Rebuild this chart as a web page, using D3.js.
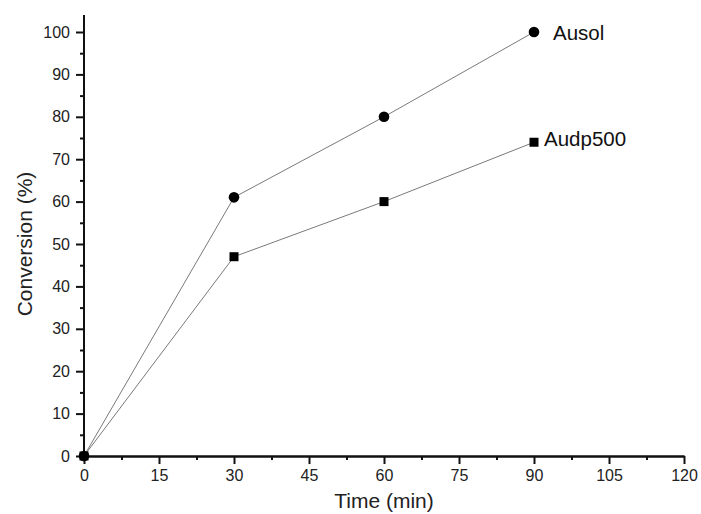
<!DOCTYPE html>
<html>
<head>
<meta charset="utf-8">
<script src="https://cdn.jsdelivr.net/npm/d3@7"></script>
<style>
  html, body { margin: 0; padding: 0; background: #fff; }
  svg { display: block; font-family: "Liberation Sans", Arial, sans-serif; }
</style>
</head>
<body>
<svg id="chart" width="701" height="514"></svg>
<script>
// Reaction time (min) and conversion (%) for each catalyst
const times = [0, 30, 60, 90];
const ausol = [0, 61, 80, 100];
const audp500 = [0, 47, 60, 74];
const seriesNames = ["Ausol", "Audp500"];
const xTicks = [0, 15, 30, 45, 60, 75, 90, 105, 120];
const yTicks = [0, 10, 20, 30, 40, 50, 60, 70, 80, 90, 100];

const svg = d3.select("#chart");

const x = d3.scaleLinear().domain([0, 120]).range([84, 684]);
const y = d3.scaleLinear().domain([0, 100]).range([456, 32]);

// axes: major ticks labelled, minor ticks halfway between
const xAxis = d3.axisBottom(x).tickValues(xTicks).tickSize(8).tickSizeOuter(0).tickPadding(6);
const xMinor = d3.axisBottom(x).tickValues(d3.range(7.5, 120, 15)).tickSize(4).tickSizeOuter(0).tickFormat("");
const yAxis = d3.axisLeft(y).tickValues(yTicks).tickSize(8).tickSizeOuter(0).tickPadding(6);
const yMinor = d3.axisLeft(y).tickValues(d3.range(5, 104, 10)).tickSize(4).tickSizeOuter(0).tickFormat("");

function styleAxis(g) {
  g.selectAll("path.domain").attr("stroke", "#111").attr("stroke-width", 2);
  g.selectAll(".tick line").attr("stroke", "#111").attr("stroke-width", 2);
  g.selectAll(".tick text").attr("fill", "#222").style("font-size", "16px")
    .style("font-family", '"Liberation Sans", Arial, sans-serif');
}

// y axis line extends above the last tick
svg.append("line").attr("x1", x(0)).attr("x2", x(0))
  .attr("y1", y(0)).attr("y2", y(104))
  .attr("stroke", "#111").attr("stroke-width", 2);

svg.append("g").attr("transform", `translate(0,${y(0)})`).call(xMinor).call(styleAxis);
svg.append("g").attr("transform", `translate(0,${y(0)})`).call(xAxis).call(styleAxis);
svg.append("g").attr("transform", `translate(${x(0)},0)`).call(yMinor).call(styleAxis)
  .select("path.domain").remove();
svg.append("g").attr("transform", `translate(${x(0)},0)`).call(yAxis).call(styleAxis)
  .select("path.domain").remove();

// axis titles
svg.append("text").attr("x", x(60)).attr("y", 508).attr("text-anchor", "middle")
  .attr("fill", "#222").style("font-size", "21px").text("Time (min)");
svg.append("text").attr("transform", "translate(32,244) rotate(-90)")
  .attr("text-anchor", "middle").attr("fill", "#222").style("font-size", "21px")
  .text("Conversion (%)");

// series lines
const line = d3.line().x((d, i) => x(times[i])).y(d => y(d));
[ausol, audp500].forEach(vals => {
  svg.append("path").datum(vals).attr("d", line)
    .attr("fill", "none").attr("stroke", "#7a7a7a").attr("stroke-width", 1);
});

// markers
svg.append("g").selectAll("circle").data(ausol).join("circle")
  .attr("cx", (d, i) => x(times[i])).attr("cy", d => y(d)).attr("r", 5.3).attr("fill", "#000");
svg.append("g").selectAll("rect").data(audp500).join("rect")
  .attr("x", (d, i) => x(times[i]) - 4.5).attr("y", d => y(d) - 4.5)
  .attr("width", 9).attr("height", 9).attr("fill", "#000");

// series labels at the last point
svg.append("text").attr("x", x(90) + 19).attr("y", y(ausol[3]) + 7.5)
  .attr("fill", "#111").style("font-size", "20.5px").text(seriesNames[0]);
svg.append("text").attr("x", x(90) + 10).attr("y", y(audp500[3]) + 4)
  .attr("fill", "#111").style("font-size", "20.5px").text(seriesNames[1]);
</script>
</body>
</html>
